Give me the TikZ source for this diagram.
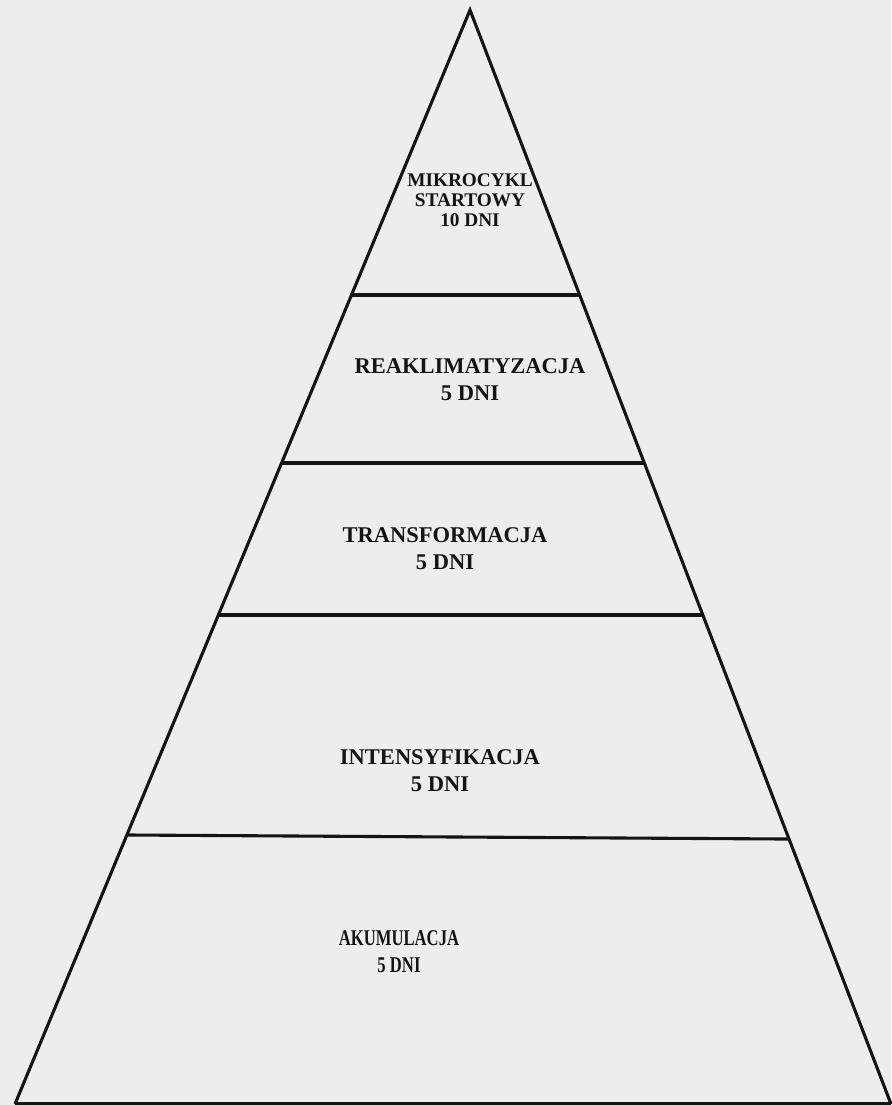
\documentclass[tikz,border=0pt]{standalone}
\usepackage{fontspec}
\usepackage{graphicx}
\setmainfont{Liberation Serif}
\usetikzlibrary{calc}
\definecolor{paper}{RGB}{237,237,239}
\definecolor{ink}{RGB}{20,20,20}
\tikzset{
  edge/.style={draw=ink, line width=3.1pt, line join=miter},
  divider/.style={draw=ink, line width=3.1pt},
  lvl/.style={align=center, text=ink, font=\bfseries\fontsize{22.5}{27}\selectfont, inner sep=0pt},
  toplvl/.style={align=center, text=ink, font=\bfseries\fontsize{19.3}{20}\selectfont, inner sep=0pt}
}
\newcommand{\narrowtxt}[1]{\scalebox{0.74}[1]{#1}}
\begin{document}
\begin{tikzpicture}[x=1pt,y=-1pt]
  \useasboundingbox (0,0) rectangle (891,1105);
  \fill[paper] (0,0) rectangle (891,1105);
  % pyramid corners
  \coordinate (A) at (470,10);
  \coordinate (BL) at (15,1104);
  \coordinate (BR) at (891,1104);
  \draw[edge] (BL) -- (A) -- (BR);
  \draw[divider] (BL) -- (BR);
  % dividing lines
  \coordinate (l1) at ($(A)!0.2605!(BL)$);
  \coordinate (r1) at ($(A)!0.2605!(BR)$);
  \coordinate (l2) at ($(A)!0.4141!(BL)$);
  \coordinate (r2) at ($(A)!0.4141!(BR)$);
  \coordinate (l3) at ($(A)!0.5530!(BL)$);
  \coordinate (r3) at ($(A)!0.5530!(BR)$);
  \coordinate (l4) at ($(A)!0.7541!(BL)$);
  \coordinate (r4) at ($(A)!0.7578!(BR)$);
  \draw[divider] (l1) -- (r1);
  \draw[divider] (l2) -- (r2);
  \draw[divider] (l3) -- (r3);
  \draw[divider] (l4) -- (r4);
  % labels
  \node[toplvl] (start) at (470,200) {MIKROCYKL\\STARTOWY\\10 DNI};
  \node[lvl] (reak) at (470,380) {REAKLIMATYZACJA\\5 DNI};
  \node[lvl] (trans) at (445,549) {TRANSFORMACJA\\5 DNI};
  \node[lvl] (inten) at (440,771) {INTENSYFIKACJA\\5 DNI};
  \node[lvl] (akum) at (399,952) {\narrowtxt{AKUMULACJA}\\\narrowtxt{5 DNI}};
\end{tikzpicture}
\end{document}
